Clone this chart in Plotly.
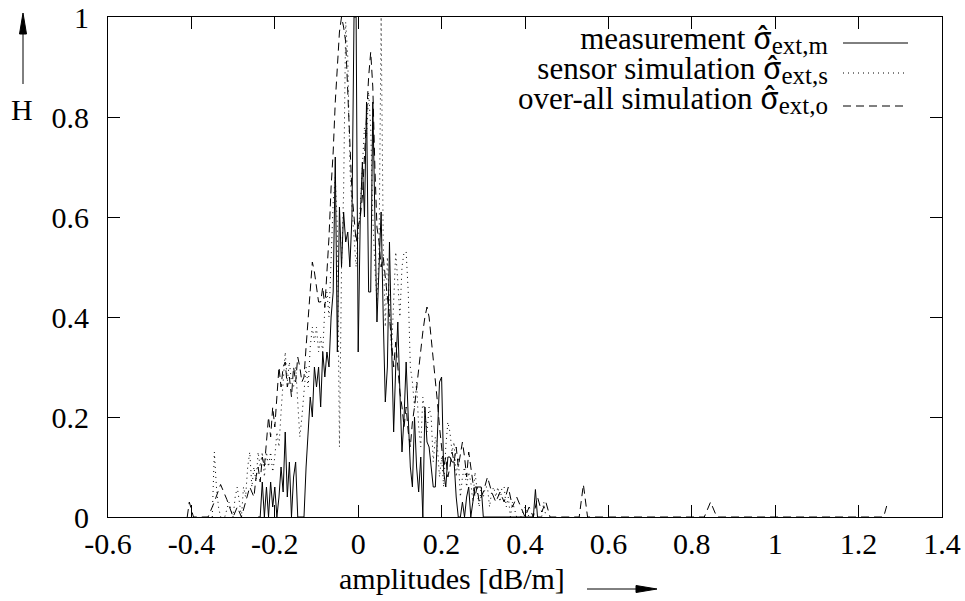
import plotly.graph_objects as go

# ---- histogram data: amplitude bins [dB/m] and normalised frequency H ----
meas_x = [-0.24, -0.235, -0.23, -0.225, -0.22, -0.215, -0.21, -0.205, -0.2, -0.195,
          -0.19, -0.185, -0.18, -0.175, -0.17, -0.165, -0.16, -0.155, -0.15, -0.145,
          -0.14, -0.135, -0.13, -0.125, -0.12, -0.115, -0.11, -0.105, -0.1, -0.095,
          -0.09, -0.085, -0.08, -0.075, -0.07, -0.065, -0.06, -0.055, -0.05, -0.045,
          -0.04, -0.035, -0.03, -0.025, -0.02, -0.015, -0.01, -0.005, 0.0, 0.005,
          0.01, 0.015, 0.02, 0.025, 0.03, 0.035, 0.04, 0.045, 0.05, 0.055,
          0.06, 0.065, 0.07, 0.075, 0.08, 0.085, 0.09, 0.095, 0.1, 0.105,
          0.11, 0.115, 0.12, 0.125, 0.13, 0.135, 0.14, 0.145, 0.15, 0.155,
          0.16, 0.165, 0.17, 0.175, 0.18, 0.185, 0.19, 0.195, 0.2, 0.205,
          0.21, 0.215, 0.22, 0.225, 0.23, 0.235, 0.24, 0.245, 0.25, 0.255,
          0.26, 0.265, 0.27, 0.275, 0.28, 0.285, 0.29, 0.295, 0.3, 0.31,
          0.42, 0.425, 0.43, 0.44]
meas_h = [0.0, 0.0, 0.07, 0.0, 0.06, 0.0, 0.07, 0.02, 0.06, 0.0,
          0.04, 0.1, 0.05, 0.17, 0.04, 0.11, 0.0, 0.08, 0.11, 0.0,
          0.0, 0.0, 0.0, 0.1, 0.18, 0.24, 0.2, 0.3, 0.26, 0.3,
          0.22, 0.33, 0.28, 0.33, 0.3, 0.4, 0.45, 0.72, 0.33, 0.62,
          0.5, 0.61, 0.55, 0.57, 0.5, 0.6, 1.0, 1.0, 0.33, 0.6,
          0.71, 0.6, 0.83, 0.45, 0.45, 0.83, 0.6, 0.39, 0.5, 0.61,
          0.4, 0.23, 0.3, 0.55, 0.35, 0.17, 0.3, 0.39, 0.25, 0.13,
          0.2, 0.31, 0.2, 0.1, 0.06, 0.2, 0.1, 0.05, 0.12, 0.0,
          0.22, 0.15, 0.14, 0.1, 0.06, 0.06, 0.15, 0.27, 0.28, 0.09,
          0.06, 0.12, 0.12, 0.11, 0.11, 0.04, 0.0, 0.0, 0.03, 0.0,
          0.04, 0.06, 0.0, 0.03, 0.06, 0.06, 0.06, 0.06, 0.0, 0.0,
          0.0, 0.055, 0.0, 0.0]

sens_x = [-0.35, -0.345, -0.34, -0.335, -0.33, -0.32, -0.31, -0.3, -0.295, -0.29,
          -0.285, -0.28, -0.275, -0.27, -0.265, -0.26, -0.255, -0.25, -0.245, -0.24,
          -0.235, -0.23, -0.225, -0.22, -0.215, -0.21, -0.205, -0.2, -0.195, -0.19,
          -0.185, -0.18, -0.175, -0.17, -0.165, -0.16, -0.155, -0.15, -0.145, -0.14,
          -0.135, -0.13, -0.125, -0.12, -0.115, -0.11, -0.105, -0.1, -0.095, -0.09,
          -0.085, -0.08, -0.075, -0.07, -0.065, -0.06, -0.055, -0.05, -0.045, -0.04,
          -0.035, -0.03, -0.025, -0.02, -0.015, -0.01, -0.005, 0.0, 0.005, 0.01,
          0.015, 0.02, 0.025, 0.03, 0.035, 0.04, 0.045, 0.05, 0.055, 0.06,
          0.065, 0.07, 0.075, 0.08, 0.085, 0.09, 0.095, 0.1, 0.105, 0.11,
          0.115, 0.12, 0.125, 0.13, 0.135, 0.14, 0.145, 0.15, 0.155, 0.16,
          0.165, 0.17, 0.175, 0.18, 0.185, 0.19, 0.195, 0.2, 0.205, 0.21,
          0.215, 0.22, 0.225, 0.23, 0.235, 0.24, 0.245, 0.25, 0.255, 0.26,
          0.265, 0.27, 0.275, 0.28, 0.285, 0.29, 0.295, 0.3, 0.305, 0.31,
          0.315, 0.32, 0.325, 0.33, 0.335, 0.34, 0.345, 0.35, 0.355, 0.36,
          0.365, 0.37, 0.38, 0.39, 0.4, 0.41, 0.44, 0.445, 0.45]
sens_h = [0.0, 0.13, 0.06, 0.02, 0.0, 0.0, 0.03, 0.0, 0.04, 0.06,
          0.03, 0.0, 0.06, 0.04, 0.1, 0.13, 0.06, 0.1, 0.07, 0.13,
          0.1, 0.13, 0.08, 0.13, 0.1, 0.13, 0.09, 0.12, 0.17, 0.14,
          0.21, 0.27, 0.33, 0.27, 0.31, 0.27, 0.26, 0.3, 0.22, 0.16,
          0.2, 0.26, 0.3, 0.26, 0.34, 0.38, 0.35, 0.38, 0.33, 0.36,
          0.33, 0.42, 0.45, 0.4, 0.5, 0.63, 0.68, 0.58, 0.14, 0.5,
          0.65, 0.99, 0.92, 0.7, 0.62, 0.55, 0.5, 0.57, 0.62, 0.7,
          0.78, 0.76, 0.85, 0.78, 0.6, 0.5, 0.43, 0.53, 1.0, 0.55,
          0.38, 0.52, 0.42, 0.33, 0.43, 0.53, 0.47, 0.4, 0.5, 0.53,
          0.53, 0.45, 0.3, 0.27, 0.22, 0.27, 0.18, 0.14, 0.24, 0.2,
          0.17, 0.22, 0.2, 0.11, 0.16, 0.14, 0.08, 0.12, 0.06, 0.14,
          0.19, 0.17, 0.13, 0.15, 0.08, 0.12, 0.04, 0.08, 0.1, 0.06,
          0.09, 0.07, 0.03, 0.09, 0.05, 0.02, 0.06, 0.04, 0.06, 0.06,
          0.02, 0.05, 0.06, 0.04, 0.06, 0.03, 0.06, 0.06, 0.02, 0.04,
          0.0, 0.03, 0.0, 0.0, 0.02, 0.0, 0.0, 0.03, 0.0]

over_x = [-0.41, -0.405, -0.395, -0.36, -0.345, -0.33, -0.315, -0.3, -0.29, -0.28,
          -0.27, -0.26, -0.25, -0.245, -0.24, -0.235, -0.23, -0.225, -0.22, -0.215,
          -0.21, -0.205, -0.2, -0.195, -0.19, -0.185, -0.18, -0.175, -0.17, -0.165,
          -0.16, -0.155, -0.15, -0.145, -0.14, -0.135, -0.13, -0.125, -0.12, -0.115,
          -0.11, -0.105, -0.1, -0.095, -0.09, -0.085, -0.08, -0.075, -0.07, -0.065,
          -0.06, -0.055, -0.05, -0.045, -0.04, -0.035, -0.03, -0.025, -0.02, -0.015,
          -0.01, -0.005, 0.0, 0.005, 0.01, 0.015, 0.02, 0.025, 0.03, 0.035,
          0.04, 0.045, 0.05, 0.055, 0.06, 0.065, 0.07, 0.075, 0.08, 0.085,
          0.09, 0.095, 0.1, 0.105, 0.11, 0.115, 0.12, 0.125, 0.13, 0.135,
          0.14, 0.145, 0.15, 0.155, 0.16, 0.165, 0.17, 0.175, 0.18, 0.185,
          0.19, 0.195, 0.2, 0.205, 0.21, 0.215, 0.22, 0.225, 0.23, 0.235,
          0.24, 0.245, 0.25, 0.255, 0.26, 0.265, 0.27, 0.275, 0.28, 0.285,
          0.29, 0.3, 0.31, 0.32, 0.33, 0.34, 0.35, 0.36, 0.37, 0.38,
          0.39, 0.4, 0.41, 0.42, 0.43, 0.44, 0.45, 0.46, 0.53, 0.54,
          0.55, 0.83, 0.845, 0.86, 1.26, 1.27]
over_h = [0.0, 0.03, 0.0, 0.0, 0.03, 0.065, 0.035, 0.0, 0.02, 0.0,
          0.03, 0.06, 0.04, 0.08, 0.1, 0.07, 0.12, 0.1, 0.15, 0.2,
          0.16, 0.22, 0.18, 0.24, 0.3, 0.26, 0.3, 0.31, 0.26, 0.28,
          0.24, 0.3, 0.27, 0.32, 0.3, 0.27, 0.28, 0.34, 0.4, 0.46,
          0.51, 0.49, 0.46, 0.43, 0.43, 0.46, 0.42, 0.48, 0.56, 0.66,
          0.73, 0.83, 0.9, 0.97, 1.0, 0.98, 0.95, 0.85, 0.78, 0.65,
          0.6, 0.55, 0.58, 0.6, 0.64, 0.72, 0.8, 0.88, 0.93, 0.86,
          0.7, 0.58, 0.55, 0.5, 0.52, 0.48, 0.45, 0.4, 0.35, 0.3,
          0.35, 0.3, 0.25, 0.22, 0.18, 0.22, 0.17, 0.14, 0.19, 0.22,
          0.26, 0.3, 0.33, 0.37, 0.4, 0.42, 0.4, 0.36, 0.32, 0.27,
          0.23, 0.18, 0.14, 0.1, 0.12, 0.08, 0.1, 0.13, 0.11, 0.14,
          0.1, 0.13, 0.15, 0.12, 0.08, 0.13, 0.1, 0.06, 0.04, 0.06,
          0.03, 0.05, 0.08, 0.05, 0.03, 0.05, 0.03, 0.06, 0.02, 0.04,
          0.02, 0.0, 0.02, 0.0, 0.04, 0.01, 0.03, 0.0, 0.0, 0.065,
          0.0, 0.0, 0.03, 0.0, 0.0, 0.03]

x_ticks = [-0.6, -0.4, -0.2, 0, 0.2, 0.4, 0.6, 0.8, 1, 1.2, 1.4]
x_tick_text = ["-0.6", "-0.4", "-0.2", "0", "0.2", "0.4", "0.6", "0.8", "1", "1.2", "1.4"]
y_ticks = [0, 0.2, 0.4, 0.6, 0.8, 1]
y_tick_text = ["0", "0.2", "0.4", "0.6", "0.8", "1"]

legend_names = ["measurement", "sensor simulation", "over-all simulation"]
legend_subs = ["ext,m", "ext,s", "ext,o"]
line_dashes = ["solid", "1px,4px", "8px,5px"]

# ---- page geometry (pixels) ----
W, H = 965, 601
L, R, T, B = 108, 942, 17, 517
FONT = "Liberation Serif"
FS = 30
KEY_FS = 31
SUB_FS = 25
KEY_LINE_FS = 23   # base size of the key block; sets 30px between its rows


def px(xp):
    return (xp - L) / (R - L)


def py(yp):
    return (B - yp) / (B - T)


fig = go.Figure()
for xs, hs, dash in zip([meas_x, sens_x, over_x], [meas_h, sens_h, over_h], line_dashes):
    fig.add_trace(go.Scatter(x=xs, y=hs, mode="lines",
                             line=dict(color="black", width=1, dash=dash),
                             showlegend=False, hoverinfo="skip"))

axis_common = dict(showgrid=False, zeroline=False, showline=True, linecolor="black",
                   linewidth=1, mirror="ticks", ticks="inside", ticklen=12,
                   tickcolor="black", tickwidth=1, automargin=False,
                   tickfont=dict(family=FONT, size=FS, color="black"))

fig.update_xaxes(range=[-0.6, 1.4], tickvals=x_ticks, ticktext=x_tick_text, **axis_common)
fig.update_yaxes(range=[0, 1], tickvals=y_ticks, ticktext=y_tick_text,
                 ticklabelstandoff=12, **axis_common)

shapes = []
annotations = []

# key: one right-aligned text block plus a line sample for each series
sigma_hat = "<span style=\"font-family:'Noto Serif'\">σ\u0302</span>"
key_lines = [
    f"<span style=\"font-size:{KEY_FS}px\">{name} {sigma_hat}</span>"
    f"<sub><span style=\"font-size:{SUB_FS}px\">{sub}</span></sub>"
    for name, sub in zip(legend_names, legend_subs)
]
annotations.append(dict(xref="paper", yref="paper", x=px(829), y=py(15),
                        xanchor="right", yanchor="top", align="right", showarrow=False,
                        borderpad=0, text="<br>".join(key_lines),
                        font=dict(family=FONT, size=KEY_LINE_FS, color="black")))
sample_rows = [43, 73, 106]
for dash, ys in zip(line_dashes, sample_rows):
    shapes.append(dict(type="line", xref="paper", yref="paper",
                       x0=px(843), x1=px(908), y0=py(ys), y1=py(ys),
                       line=dict(color="black", width=1, dash=dash)))

# y-axis name with upward arrow
annotations.append(dict(xref="paper", yref="paper", x=px(22), y=py(109),
                        xanchor="center", yanchor="middle", showarrow=False,
                        text="H", font=dict(family=FONT, size=FS, color="black")))
shapes.append(dict(type="line", xref="paper", yref="paper",
                   x0=px(23), x1=px(23), y0=py(84), y1=py(30),
                   line=dict(color="black", width=1)))
shapes.append(dict(type="path", xref="paper", yref="paper",
                   path=f"M {px(23)} {py(13)} L {px(19.5)} {py(34)} L {px(26.5)} {py(34)} Z",
                   fillcolor="black", line=dict(color="black", width=1)))

# x-axis name with rightward arrow
annotations.append(dict(xref="paper", yref="paper", x=px(452), y=py(578),
                        xanchor="center", yanchor="middle", showarrow=False,
                        text="amplitudes [dB/m]", font=dict(family=FONT, size=FS, color="black")))
shapes.append(dict(type="line", xref="paper", yref="paper",
                   x0=px(587), x1=px(640), y0=py(589), y1=py(589),
                   line=dict(color="black", width=1)))
shapes.append(dict(type="path", xref="paper", yref="paper",
                   path=f"M {px(657)} {py(589)} L {px(636)} {py(585.5)} L {px(636)} {py(592.5)} Z",
                   fillcolor="black", line=dict(color="black", width=1)))

fig.update_layout(width=W, height=H,
                  margin=dict(l=L, r=W - R, t=T, b=H - B, pad=0, autoexpand=False),
                  paper_bgcolor="white", plot_bgcolor="white",
                  shapes=shapes, annotations=annotations,
                  font=dict(family=FONT, color="black"))

fig.write_html("out.html")
